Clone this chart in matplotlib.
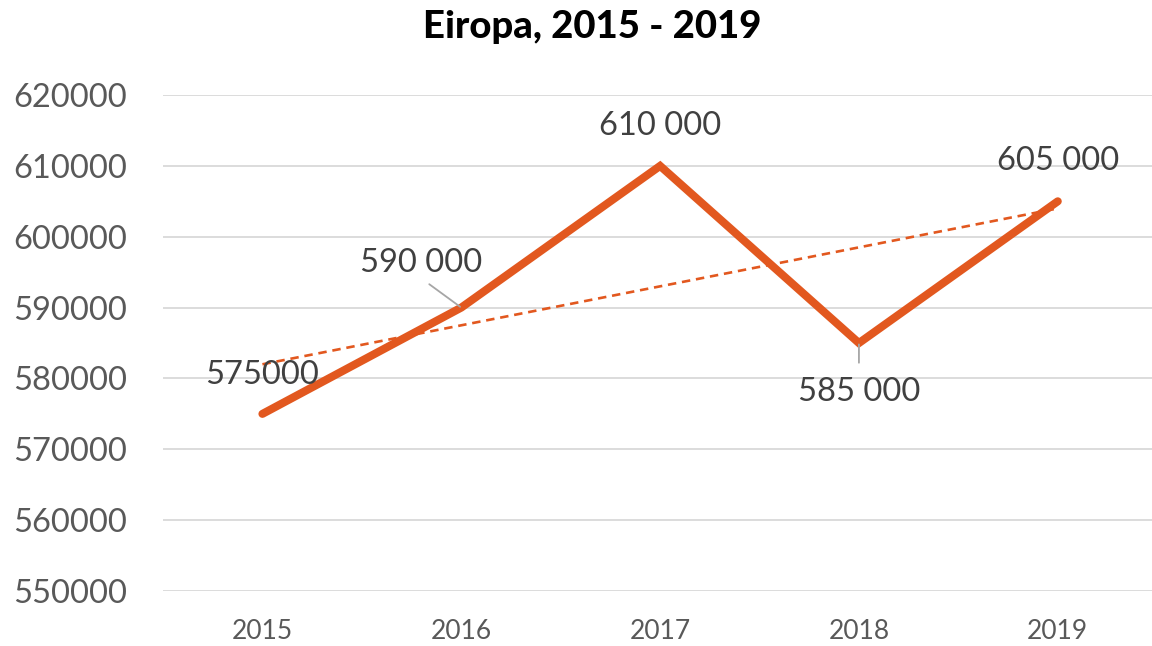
import numpy as np
import matplotlib
matplotlib.use('Agg')
import matplotlib.pyplot as plt

plt.rcParams['font.family'] = ['Lato', 'DejaVu Sans']

# data
years = ['2015', '2016', '2017', '2018', '2019']
values = [575000, 590000, 610000, 585000, 605000]
labels = ['575000', '590 000', '610 000', '585 000', '605 000']
y_ticks = [550000, 560000, 570000, 580000, 590000, 600000, 610000, 620000]

line_color = '#E2581F'
text_color = '#404040'
tick_color = '#595959'

fig = plt.figure(figsize=(11.52, 6.46), dpi=100)
ax = fig.add_axes([0.1415, 0.0851, 0.8630, 0.7678])

x = np.arange(len(years))

# linear trendline
k, b = np.polyfit(x, values, 1)
ax.plot(x, k * x + b, color=line_color, lw=1.9, ls=(0, (3.2, 2.2)), zorder=3)

ax.plot(x, values, color=line_color, lw=5.8, solid_capstyle='round',
        solid_joinstyle='miter', zorder=4)

# data labels (offsets in points)
offsets = [(0, 28), (-29, 32), (0, 29), (0, -35), (0, 29)]
for i, (v, lab, off) in enumerate(zip(values, labels, offsets)):
    kw = {}
    if i == 1:
        kw['arrowprops'] = dict(arrowstyle='-', color='#A6A6A6', lw=1.3,
                                shrinkA=4, shrinkB=1, relpos=(0.5, 0))
    elif i == 3:
        kw['arrowprops'] = dict(arrowstyle='-', color='#A6A6A6', lw=1.3,
                                shrinkA=8, shrinkB=1, relpos=(0.5, 1))
    ax.annotate(lab, xy=(i, v), xytext=off, textcoords='offset points',
                ha='center', va='center', fontsize=23.5, color=text_color,
                zorder=5, **kw)

ax.set_xlim(-0.5, len(years) - 0.5)
ax.set_ylim(550000, 620000)
ax.set_yticks(y_ticks)
ax.set_yticklabels([str(t) for t in y_ticks])
ax.set_xticks(x)
ax.set_xticklabels(years)
ax.tick_params(axis='y', length=0, pad=26, labelsize=23.5, labelcolor=tick_color)
ax.tick_params(axis='x', length=0, pad=20, labelsize=19, labelcolor=tick_color)

ax.grid(axis='y', color='#D9D9D9', lw=1.3)
ax.set_axisbelow(True)
for s in ax.spines.values():
    s.set_visible(False)

fig.text(0.514, 0.958, 'Eiropa, 2015 - 2019', ha='center', va='center',
         fontsize=27.5, fontweight='black', color='black')

fig.savefig('out.png', dpi=100)
